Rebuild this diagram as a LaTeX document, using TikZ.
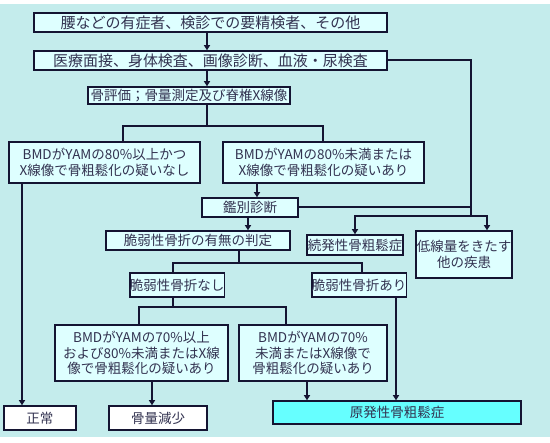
\documentclass[tikz,border=0pt]{standalone}
\usepackage{fontspec}
\setmainfont{Noto Sans CJK JP}
\usetikzlibrary{arrows.meta}
\definecolor{bgcyan}{RGB}{196,236,236}
\definecolor{boxcyan}{RGB}{222,255,255}
\definecolor{maincyan}{RGB}{102,255,255}
\definecolor{linenavy}{RGB}{20,20,50}
\definecolor{textgray}{RGB}{50,50,80}

\begin{document}
\begin{tikzpicture}[x=1pt, y=-1pt, align=center,
    box/.style={draw=linenavy, line width=1.5pt, fill=boxcyan, inner sep=0pt,
      text=textgray, font=\fontsize{13.5}{15.5}\selectfont},
    bigbox/.style={box, font=\fontsize{15}{17}\selectfont},
    wbox/.style={box, fill=white},
    link/.style={draw=linenavy, line width=2pt},
    arr/.style={link, -{Triangle[length=5pt,width=6pt]}}]
  \useasboundingbox (0,0) rectangle (550,443);
  \fill[bgcyan] (0,4) rectangle (550,437);

  % boxes
  \node[bigbox, minimum width=353, minimum height=19] (sym) at (210.5,22.5) {腰などの有症者、検診での要精検者、その他};
  \node[bigbox, minimum width=353, minimum height=19] (exam) at (210.5,60.5) {医療面接、身体検査、画像診断、血液・尿検査};
  \node[box, minimum width=202, minimum height=17] (bone) at (189,95.5) {骨評価；骨量測定及び脊椎X線像};
  \node[box, minimum width=191, minimum height=41] (hi80) at (104.5,162.5) {BMDがYAMの80\%以上かつ\\X線像で骨粗鬆化の疑いなし};
  \node[box, minimum width=201, minimum height=41] (lo80) at (323.5,162.5) {BMDがYAMの80\%未満または\\X線像で骨粗鬆化の疑いあり};
  \node[box, minimum width=96, minimum height=19] (diff) at (250,207.5) {鑑別診断};
  \node[box, minimum width=184, minimum height=19] (judge) at (198,240.5) {脆弱性骨折の有無の判定};
  \node[box, minimum width=96, minimum height=20] (second) at (355,245) {続発性骨粗鬆症};
  \node[box, minimum width=96, minimum height=47] (other) at (464,254.5) {低線量をきたす\\他の疾患};
  \node[box, minimum width=92, minimum height=24] (nofx) at (177,285) {脆弱性骨折なし};
  \node[box, minimum width=88, minimum height=24] (fx) at (359,285) {脆弱性骨折あり};
  \node[box, minimum width=173, minimum height=56] (mid70) at (141.5,353) {BMDがYAMの70\%以上\\および80\%未満またはX線\\像で骨粗鬆化の疑いあり};
  \node[box, minimum width=148, minimum height=56] (lo70) at (313,353) {BMDがYAMの70\%\\未満またはX線像で\\骨粗鬆化の疑いあり};
  \node[wbox, minimum width=72, minimum height=24] (normal) at (40,418) {正常};
  \node[wbox, minimum width=98, minimum height=24] (penia) at (158,418) {骨量減少};
  \node[box, fill=maincyan, minimum width=248, minimum height=23] (primary) at (397,412.5) {原発性骨粗鬆症};

  % branch points
  \coordinate (t1) at (207,0);
  \coordinate (r1) at (471,216);
  \coordinate (s1) at (207,126);
  \coordinate (s2) at (239,263);
  \coordinate (s3) at (173,307);

  % connectors
  \draw[arr] (sym.south -| t1) -- (exam.north -| t1);
  \draw[arr] (exam.south -| t1) -- (bone.north -| t1);
  \draw[link] (exam.east) -| (r1);
  \draw[link] (diff.east) -- (diff.east -| r1);
  \draw[arr] (r1) -| (second.north);
  \draw[arr] (r1) -| (other.north -| 487,0);
  \draw[link] (bone.south -| s1) -- (s1);
  \draw[link] (hi80.north -| 123,0) |- (s1) -| (lo80.north -| 323,0);
  \draw[arr] (lo80.south -| 257,0) -- (diff.north -| 257,0);
  \draw[arr] (diff.south -| 248,0) -- (judge.north -| 248,0);
  \draw[link] (judge.south -| s2) -- (s2);
  \draw[link] (nofx.north -| 173,0) |- (s2) -| (fx.north -| 362,0);
  \draw[link] (nofx.south -| s3) -- (s3);
  \draw[link] (mid70.north -| 139,0) |- (s3) -| (lo70.north -| 286,0);
  \draw[arr] (fx.south -| 396,0) -- (primary.north -| 396,0);
  \draw[arr] (hi80.south -| 22,0) -- (normal.north -| 22,0);
  \draw[arr] (mid70.south -| 152,0) -- (penia.north -| 152,0);
  \draw[arr] (lo70.south -| 307,0) -- (primary.north -| 307,0);
\end{tikzpicture}
\end{document}
